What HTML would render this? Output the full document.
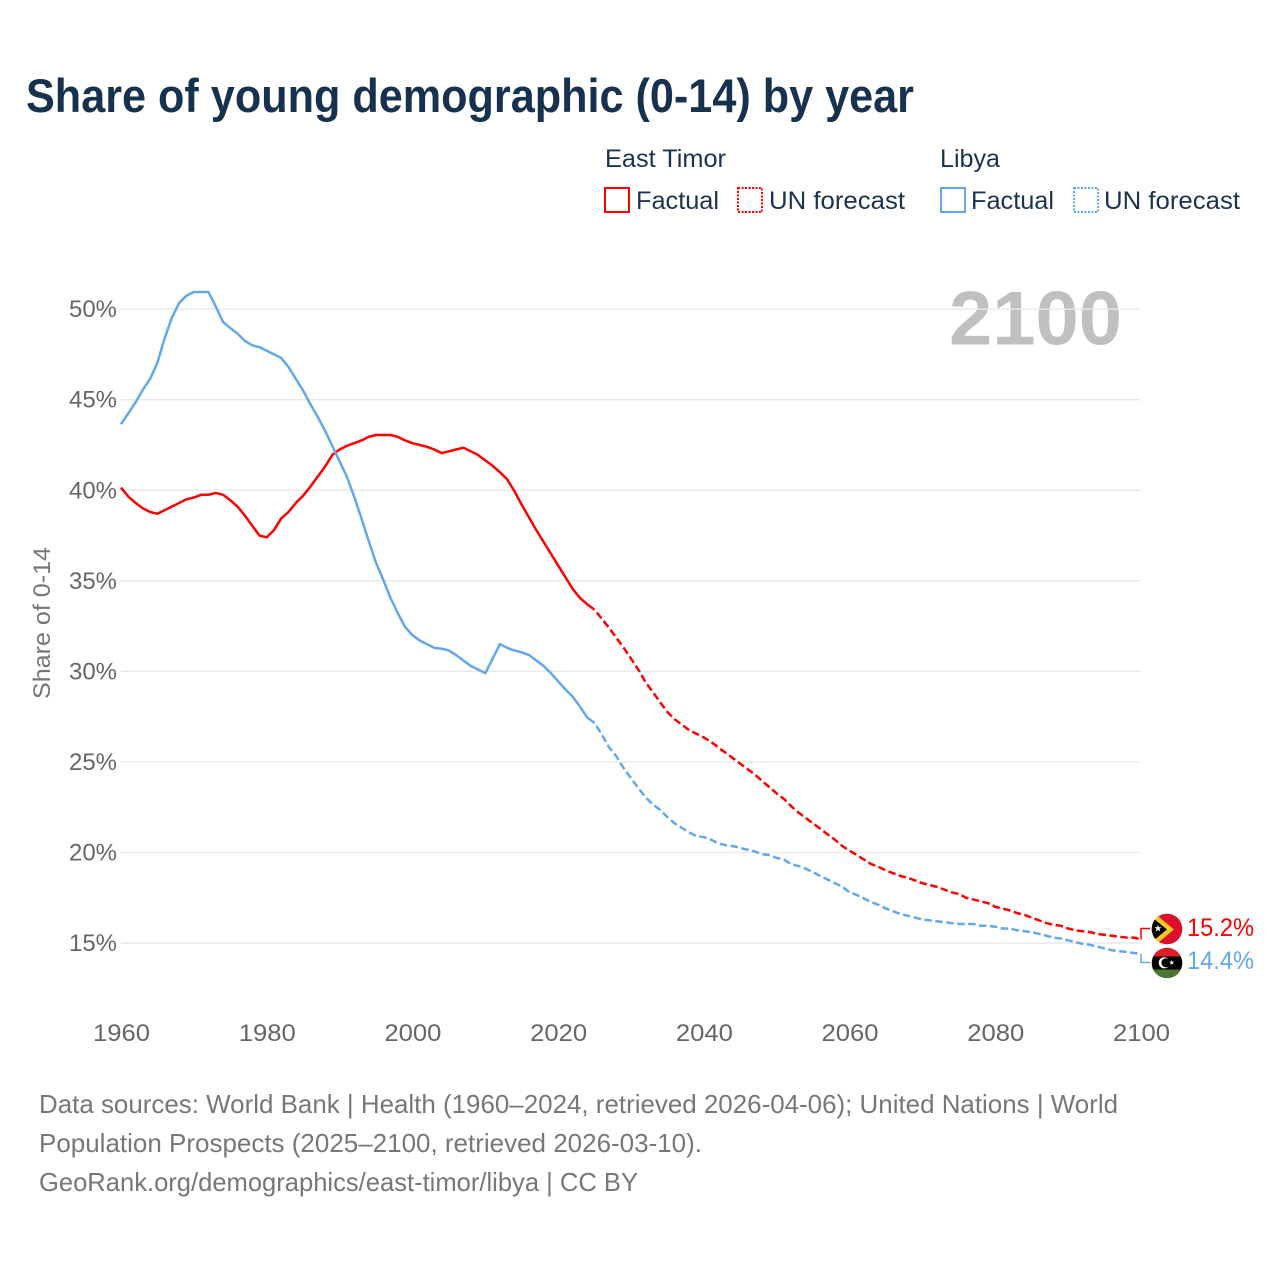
<!DOCTYPE html>
<html lang="en">
<head>
<meta charset="utf-8">
<title>Share of young demographic (0-14) by year</title>
<style>
html,body{margin:0;padding:0;background:#fff;}
svg{display:block;}
text{font-family:"Liberation Sans",sans-serif;}
</style>
</head>
<body>
<svg id="chart" xmlns="http://www.w3.org/2000/svg" width="1280" height="1280" viewBox="0 0 1280 1280">
  <defs>
    <clipPath id="clip-timor"><circle cx="1167" cy="929" r="15.3"/></clipPath>
    <clipPath id="clip-libya"><circle cx="1167" cy="963" r="15.3"/></clipPath>
  </defs>
  <rect width="1280" height="1280" fill="#fff"/>
  <text x="26" y="112" font-size="47" font-weight="bold" fill="#17324f" textLength="888" lengthAdjust="spacingAndGlyphs">Share of young demographic (0-14) by year</text>

  <g font-size="25" fill="#1a3353">
    <text x="605" y="167" textLength="121" lengthAdjust="spacingAndGlyphs">East Timor</text>
    <text x="940" y="167" textLength="60" lengthAdjust="spacingAndGlyphs">Libya</text>
    <rect x="605" y="188" width="24" height="24" fill="none" stroke="#ff0000" stroke-width="2"/>
    <text x="636" y="209" textLength="83" lengthAdjust="spacingAndGlyphs">Factual</text>
    <rect x="738" y="188" width="24" height="24" fill="none" stroke="#ff0000" stroke-width="2" stroke-dasharray="2 1.5"/>
    <text x="769" y="209" textLength="136" lengthAdjust="spacingAndGlyphs">UN forecast</text>
    <rect x="941" y="188" width="24" height="24" fill="none" stroke="#62a8ea" stroke-width="2"/>
    <text x="971" y="209" textLength="83" lengthAdjust="spacingAndGlyphs">Factual</text>
    <rect x="1074" y="188" width="24" height="24" fill="none" stroke="#62a8ea" stroke-width="2" stroke-dasharray="2 1.5"/>
    <text x="1104" y="209" textLength="136" lengthAdjust="spacingAndGlyphs">UN forecast</text>
  </g>

  <text x="949" y="344.5" font-size="76" font-weight="bold" fill="#c0c0c0" textLength="173" lengthAdjust="spacingAndGlyphs">2100</text>

  <g id="grid"></g>
  <g id="y-ticks"></g>
  <g id="x-ticks"></g>

  <text transform="translate(50,699) rotate(-90)" font-size="24" fill="#777" textLength="152" lengthAdjust="spacingAndGlyphs">Share of 0-14</text>

  <g id="series"></g>

  <g clip-path="url(#clip-timor)">
    <rect x="1150" y="912" width="34" height="34" fill="#dc0f2f"/>
    <polygon points="1150,909.5 1174,929.5 1150,949.5" fill="#ffc726"/>
    <polygon points="1150,915.5 1167,929.5 1150,943.5" fill="#000"/>
    <polygon points="1158,924.8 1158.9,927.3 1161.6,927.3 1159.5,928.9 1160.2,931.5 1158,930 1155.8,931.5 1156.5,928.9 1154.4,927.3 1157.1,927.3" fill="#fff"/>
  </g>
  <g clip-path="url(#clip-libya)">
    <rect x="1150" y="946" width="34" height="11" fill="#dc1f26"/>
    <rect x="1150" y="956.5" width="34" height="13" fill="#000"/>
    <rect x="1150" y="969.5" width="34" height="10" fill="#4d7431"/>
    <circle cx="1164.3" cy="962.8" r="5.6" fill="#fff"/>
    <circle cx="1166" cy="962.8" r="4.6" fill="#000"/>
    <polygon points="1171.7,960 1172.4,961.7 1174.3,961.7 1172.8,962.9 1173.4,964.8 1171.7,963.7 1170,964.8 1170.6,962.9 1169.1,961.7 1171,961.7" fill="#fff"/>
  </g>

  <g id="end-labels"></g>

  <g font-size="26" fill="#777">
    <text x="39" y="1113" textLength="1079" lengthAdjust="spacingAndGlyphs">Data sources: World Bank | Health (1960–2024, retrieved 2026-04-06); United Nations | World</text>
    <text x="39" y="1152" textLength="663" lengthAdjust="spacingAndGlyphs">Population Prospects (2025–2100, retrieved 2026-03-10).</text>
    <text x="39" y="1191" textLength="599" lengthAdjust="spacingAndGlyphs">GeoRank.org/demographics/east-timor/libya | CC BY</text>
  </g>
</svg>
<script>
const yTickValues = [50, 45, 40, 35, 30, 25, 20, 15];
const xTickYears = [1960, 1980, 2000, 2020, 2040, 2060, 2080, 2100];
const factualStartYear = 1960;
const forecastStartYear = 2025;

const timorFactual = [40.15,39.65,39.3,39.0,38.8,38.7,38.9,39.1,39.3,39.5,39.6,39.75,39.75,39.85,39.75,39.45,39.1,38.6,38.05,37.5,37.4,37.8,38.45,38.8,39.3,39.7,40.2,40.75,41.3,41.95,42.25,42.45,42.6,42.75,42.95,43.05,43.05,43.05,42.95,42.75,42.6,42.5,42.4,42.25,42.05,42.15,42.25,42.35,42.15,41.95,41.65,41.35,41.0,40.6,39.95,39.2,38.5,37.8,37.15,36.5,35.85,35.2,34.55,34.05,33.7,33.4];
const timorForecast = [33.4,32.9,32.4,31.85,31.3,30.7,30.1,29.4,28.85,28.3,27.75,27.35,27.05,26.75,26.55,26.35,26.1,25.8,25.5,25.2,24.9,24.6,24.3,23.95,23.6,23.25,22.95,22.55,22.2,21.9,21.6,21.3,21.0,20.7,20.35,20.1,19.85,19.6,19.35,19.2,19.0,18.85,18.7,18.6,18.45,18.3,18.2,18.1,17.95,17.8,17.7,17.5,17.4,17.3,17.2,17.0,16.9,16.8,16.65,16.55,16.4,16.25,16.1,16.0,15.95,15.8,15.7,15.65,15.6,15.5,15.45,15.4,15.35,15.3,15.3,15.2];
const libyaFactual = [43.65,44.25,44.85,45.55,46.15,47.05,48.4,49.55,50.35,50.75,50.95,50.95,50.95,50.15,49.3,48.95,48.65,48.25,48.0,47.9,47.7,47.5,47.3,46.8,46.15,45.5,44.75,44.05,43.3,42.45,41.6,40.75,39.65,38.45,37.2,36.0,35.05,34.05,33.2,32.45,32.0,31.7,31.5,31.3,31.25,31.15,30.9,30.6,30.3,30.1,29.9,30.7,31.5,31.3,31.15,31.05,30.9,30.6,30.3,29.9,29.45,29.0,28.6,28.05,27.45,27.15];
const libyaForecast = [27.15,26.5,25.8,25.3,24.65,24.1,23.55,23.05,22.65,22.35,21.95,21.6,21.35,21.1,20.9,20.85,20.7,20.5,20.4,20.35,20.25,20.15,20.05,19.9,19.85,19.7,19.6,19.35,19.25,19.1,18.9,18.7,18.5,18.3,18.1,17.8,17.65,17.45,17.25,17.1,16.9,16.75,16.6,16.5,16.4,16.3,16.25,16.2,16.15,16.1,16.05,16.05,16.05,15.95,15.95,15.9,15.8,15.8,15.7,15.65,15.6,15.5,15.4,15.3,15.25,15.15,15.05,14.95,14.9,14.8,14.7,14.6,14.55,14.5,14.45,14.4];
const timorEndLabel = '15.2%';
const libyaEndLabel = '14.4%';

const NS = 'http://www.w3.org/2000/svg';
const xOf = function (year) { return 121 + (year - 1960) * (1020 / 140); };
const yOf = function (v) { return 943 - (v - 15) * 18.11; };
const RED = '#ff0000';
const BLUE = '#62a8ea';

function make(tag, attrs, parent, content) {
  const el = document.createElementNS(NS, tag);
  for (const k in attrs) el.setAttribute(k, attrs[k]);
  if (content !== undefined) el.textContent = content;
  parent.appendChild(el);
  return el;
}
function pointsFor(values, startYear) {
  return values.map(function (v, i) {
    return xOf(startYear + i).toFixed(2) + ',' + yOf(v).toFixed(2);
  }).join(' ');
}

const gridG = document.getElementById('grid');
const yG = document.getElementById('y-ticks');
yTickValues.forEach(function (v) {
  const line = make('line', {x1: 121, x2: 1141, y1: yOf(v), y2: yOf(v), stroke: '#e9e9e9', 'stroke-width': 1.4}, gridG);
  
  
  const t = make('text', {x: 69, y: yOf(v) + 8, 'font-size': 24, fill: '#666', textLength: 48, lengthAdjust: 'spacingAndGlyphs'}, yG, v + '%');
  
  
});

const xG = document.getElementById('x-ticks');
xTickYears.forEach(function (yr) {
  const t = make('text', {x: xOf(yr) - 28, y: 1041, 'font-size': 24, fill: '#666', textLength: 57, lengthAdjust: 'spacingAndGlyphs'}, xG, String(yr));
  
  
});

const seriesG = document.getElementById('series');
function drawSeries(values, startYear, color, dashed, name) {
  const attrs = {points: pointsFor(values, startYear), fill: 'none', stroke: color, 'stroke-width': 2.5, 'stroke-linejoin': 'round'};
  if (dashed) { attrs['stroke-dasharray'] = '7.5 3.5'; attrs['stroke-dashoffset'] = '7.5'; }
  const p = make('polyline', attrs, seriesG);
  
  
}
drawSeries(timorFactual, factualStartYear, RED, false, 'line-east-timor-factual');
drawSeries(timorForecast, forecastStartYear, RED, true, 'line-east-timor-forecast');
drawSeries(libyaFactual, factualStartYear, BLUE, false, 'line-libya-factual');
drawSeries(libyaForecast, forecastStartYear, BLUE, true, 'line-libya-forecast');

const labelG = document.getElementById('end-labels');
const timorLast = timorForecast[timorForecast.length - 1];
const libyaLast = libyaForecast[libyaForecast.length - 1];
const c1 = make('polyline', {points: xOf(2100) + ',' + yOf(timorLast) + ' ' + xOf(2100) + ',928.5 1150,928.5', fill: 'none', stroke: RED, 'stroke-width': 1.5}, labelG);


const c2 = make('polyline', {points: xOf(2100) + ',' + yOf(libyaLast) + ' ' + xOf(2100) + ',962.5 1150,962.5', fill: 'none', stroke: BLUE, 'stroke-width': 1.5}, labelG);


const l1 = make('text', {x: 1187, y: 936, 'font-size': 25, fill: RED, textLength: 67, lengthAdjust: 'spacingAndGlyphs'}, labelG, timorEndLabel);


const l2 = make('text', {x: 1187, y: 969, 'font-size': 25, fill: BLUE, textLength: 67, lengthAdjust: 'spacingAndGlyphs'}, labelG, libyaEndLabel);


</script>
</body>
</html>
